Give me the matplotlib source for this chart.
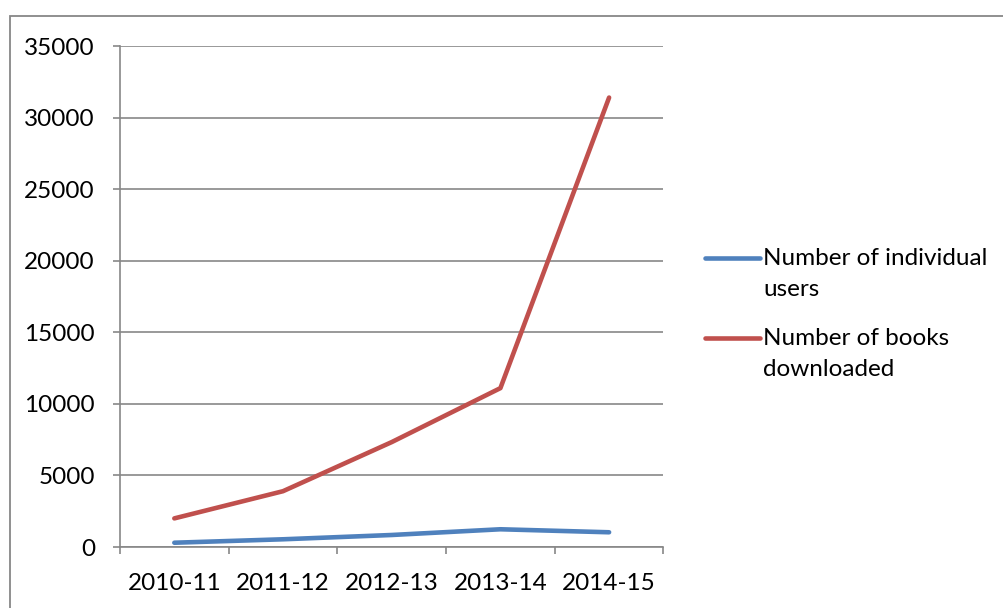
import matplotlib.pyplot as plt
from matplotlib.lines import Line2D
from matplotlib.patches import Rectangle

plt.rcParams["font.family"] = ["Lato", "DejaVu Sans"]

# Library usage by year
years = ["2010-11", "2011-12", "2012-13", "2013-14", "2014-15"]
users = [300, 540, 840, 1240, 1030]
downloads = [2000, 3900, 7330, 11100, 31400]

series_labels = ["Number of individual\nusers", "Number of books\ndownloaded"]
series_colors = ["#4F81BD", "#C0504D"]

grey = "#878787"
fs = 17.5

fig = plt.figure(figsize=(10.04, 6.08), dpi=100)
ax = fig.add_axes([0.1195, 0.1003, 0.5413, 0.8240])

x = list(range(len(years)))
ax.plot(x, users, color=series_colors[0], lw=3.3, solid_capstyle="round")
ax.plot(x, downloads, color=series_colors[1], lw=3.3, solid_capstyle="round")

ax.set_xlim(-0.5, len(years) - 0.5)
ax.set_ylim(0, 35000)
ax.set_yticks(range(0, 35001, 5000))
ax.set_xticks(x)
ax.set_xticklabels(years)
ax.set_xticks([i - 0.5 for i in range(len(years) + 1)], minor=True)

ax.grid(axis="y", color=grey, lw=1.2)
ax.set_axisbelow(True)
for side in ["top", "right"]:
    ax.spines[side].set_visible(False)
for side in ["left", "bottom"]:
    ax.spines[side].set_color(grey)
    ax.spines[side].set_linewidth(1.2)

ax.tick_params(axis="y", length=5, width=1.2, color=grey, pad=13, labelsize=fs)
ax.tick_params(axis="x", which="major", length=0, pad=19, labelsize=fs)
ax.tick_params(axis="x", which="minor", length=5, width=1.2, color=grey)

# legend with the handle next to the first text line
for i, (lab, col) in enumerate(zip(series_labels, series_colors)):
    yl = 1 - (258 + 80 * i) / 608
    fig.add_artist(Line2D([705 / 1004, 760 / 1004], [yl, yl], color=col,
                          lw=3.3, solid_capstyle="round"))
    fig.text(763 / 1004, yl + 10 / 608, lab, fontsize=fs, va="top", ha="left",
             linespacing=1.6)

# chart frame
fig.add_artist(Rectangle((10 / 1004, -0.01), 1.2, 1 - 16 / 608 + 0.01,
                         transform=fig.transFigure, fill=False,
                         edgecolor=grey, lw=1.3))

fig.savefig("out.png", dpi=100)
